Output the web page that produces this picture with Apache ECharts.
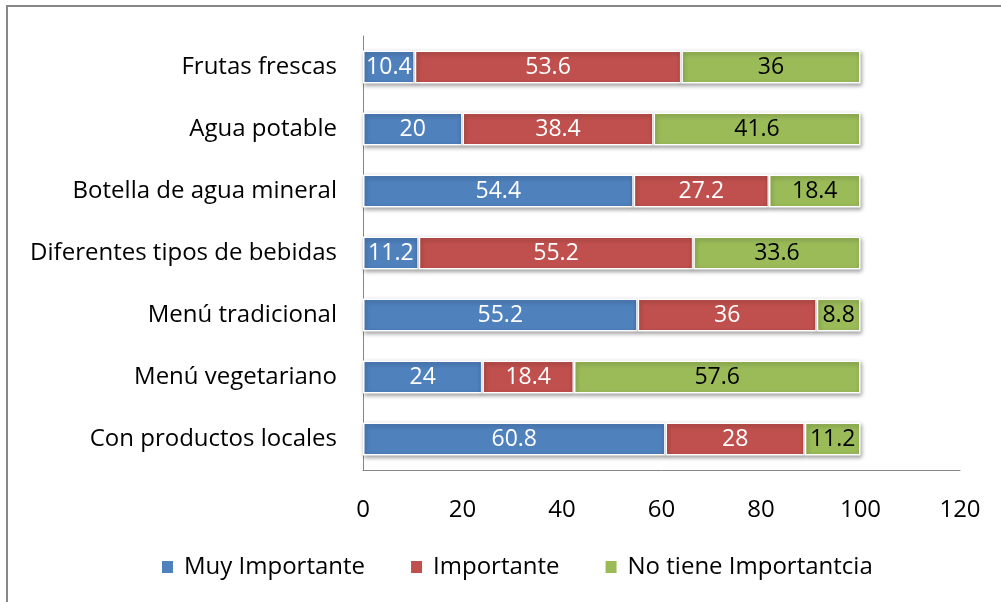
<!DOCTYPE html>
<html><head><meta charset="utf-8">
<script src="https://cdn.jsdelivr.net/npm/echarts@6/dist/echarts.min.js"></script>
<style>html,body{margin:0;padding:0;background:#fff}#c{width:1001px;height:602px}</style>
</head><body><div id="c"></div>
<script>
const categories = ["Frutas frescas","Agua potable","Botella de agua mineral","Diferentes tipos de bebidas","Menú tradicional","Menú vegetariano","Con productos locales"];
const muyImportante = [10.4,20,54.4,11.2,55.2,24,60.8];
const importante = [53.6,38.4,27.2,55.2,36,18.4,28];
const noTiene = [36,41.6,18.4,33.6,8.8,57.6,11.2];
const seriesNames = ["Muy Importante","Importante","No tiene Importantcia"];
const xTicks = [0,20,40,60,80,100,120];

const FONT = "'Open Sans', 'Liberation Sans', sans-serif";
const chart = echarts.init(document.getElementById('c'), null, {renderer:'canvas'});
function mk(name, data, color, labelColor){
  return {
    name, type:'bar', stack:'a', data, barWidth:'53%',
    itemStyle:{color, borderColor:'#fff', borderWidth:1.5, shadowColor:'rgba(0,0,0,0.35)', shadowBlur:4, shadowOffsetX:1, shadowOffsetY:2},
    label:{show:true, position:'inside', color:labelColor, fontFamily:FONT, fontSize:23},
    emphasis:{disabled:true}
  };
}
chart.setOption({
  animation:false,
  backgroundColor:'#fff',
  grid:{left:363, right:41, top:36, bottom:132, containLabel:false},
  xAxis:{type:'value', min:xTicks[0], max:xTicks[xTicks.length-1], interval:20,
    axisLine:{show:true, lineStyle:{color:'#868686', width:1}},
    axisTick:{show:false}, splitLine:{show:false},
    axisLabel:{color:'#000', fontFamily:FONT, fontSize:24, margin:28}},
  yAxis:{type:'category', data:categories.slice().reverse(), inverse:false,
    axisLine:{show:true, lineStyle:{color:'#868686', width:1}},
    axisTick:{show:false},
    axisLabel:{color:'#000', fontFamily:FONT, fontSize:24, margin:26}},
  legend:{bottom:18, left:155, itemWidth:13, itemHeight:14, itemGap:44, icon:'rect',
    textStyle:{color:'#000', fontFamily:FONT, fontSize:24, padding:[0,0,0,5]}, data:seriesNames},
  series:[
    mk(seriesNames[0], muyImportante.slice().reverse(), '#4F81BD', '#fff'),
    mk(seriesNames[1], importante.slice().reverse(), '#C0504D', '#fff'),
    mk(seriesNames[2], noTiene.slice().reverse(), '#9BBB59', '#000')
  ],
  graphic:[{type:'rect', shape:{x:7, y:6, width:1100, height:700}, style:{fill:'none', stroke:'#888', lineWidth:2}}]
});
</script></body></html>
